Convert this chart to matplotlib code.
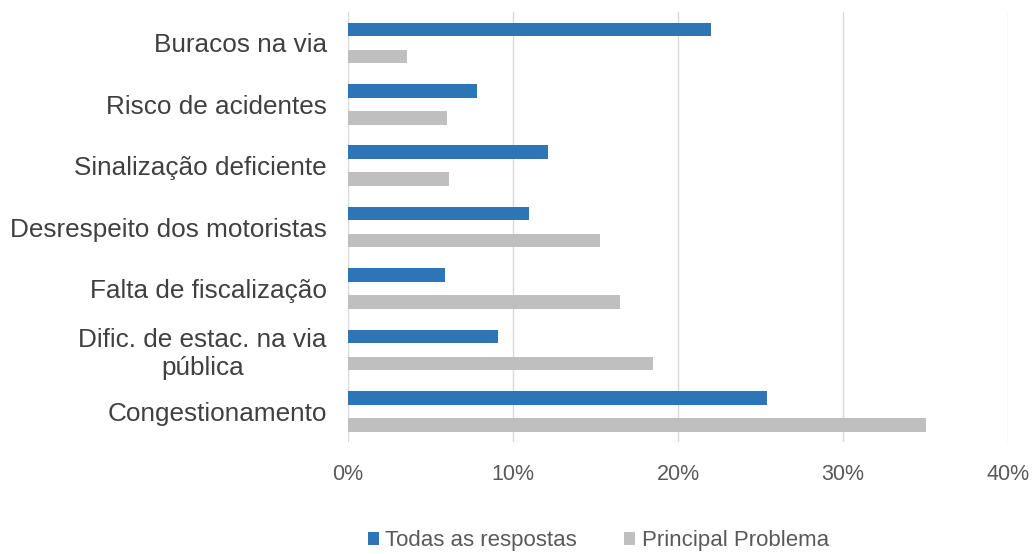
import matplotlib
matplotlib.use("Agg")
import matplotlib.pyplot as plt
import numpy as np
from matplotlib.ticker import PercentFormatter

categories = [
    "Buracos na via",
    "Risco de acidentes",
    "Sinalização deficiente",
    "Desrespeito dos motoristas",
    "Falta de fiscalização",
    "Dific. de estac. na via\npública",
    "Congestionamento",
]
todas = [22.0, 7.8, 12.1, 11.0, 5.9, 9.1, 25.4]
principal = [3.6, 6.0, 6.1, 15.3, 16.5, 18.5, 35.0]
series_names = ["Todas as respostas", "Principal Problema"]

BLUE = "#2E75B6"
GRAY = "#BFBFBF"
TEXT = "#404040"

plt.rcParams["font.family"] = ["Liberation Sans", "DejaVu Sans"]

fig = plt.figure(figsize=(10.32, 5.54), dpi=100)
ax = fig.add_axes([0.337, 0.202, 0.640, 0.776])

y = np.arange(len(categories))
h = 0.22
ax.barh(y - h, todas, height=h, color=BLUE, label=series_names[0], zorder=3)
ax.barh(y + h, principal, height=h, color=GRAY, label=series_names[1], zorder=3)

ax.set_ylim(len(categories) - 0.5, -0.5)
ax.set_xlim(0, 40)
ax.set_xticks([0, 10, 20, 30, 40])
ax.xaxis.set_major_formatter(PercentFormatter(decimals=0))
ax.set_yticks(y)
ax.set_yticklabels(categories, fontsize=18.8, color=TEXT, multialignment="center")
ax.tick_params(axis="y", length=0, pad=15)
ax.tick_params(axis="x", length=0, pad=16, labelsize=15.5, labelcolor="#595959")
ax.grid(axis="x", color="#D9D9D9", linewidth=1.0, zorder=0)
for s in ax.spines.values():
    s.set_visible(False)

ax.legend(loc="center", bbox_to_anchor=(0.379, -0.23), ncol=2, frameon=False,
          fontsize=16, labelcolor="#595959", handlelength=0.5, handleheight=0.5,
          handletextpad=0.3, columnspacing=2.1)

fig.savefig("out.png", dpi=100)
